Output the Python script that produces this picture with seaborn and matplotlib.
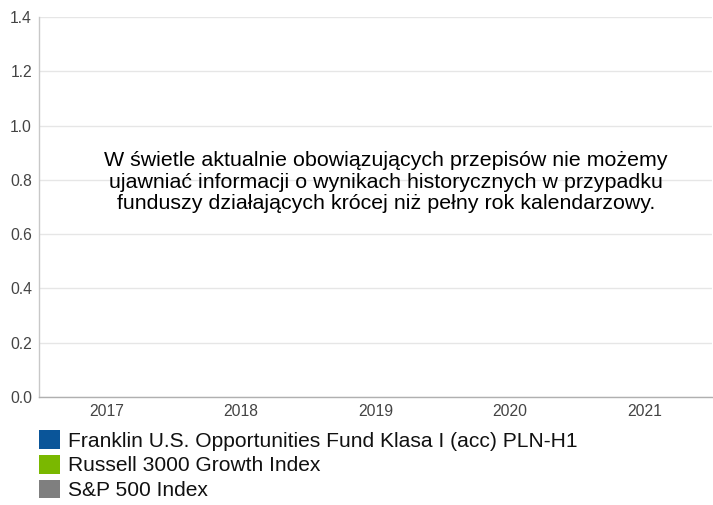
import numpy as np
import pandas as pd
import matplotlib
matplotlib.use("Agg")
import matplotlib.pyplot as plt
from matplotlib.patches import Patch
import seaborn as sns

years = ["2017", "2018", "2019", "2020", "2021"]
series_names = [
    "Franklin U.S. Opportunities Fund Klasa I (acc) PLN-H1",
    "Russell 3000 Growth Index",
    "S&P 500 Index",
]
series_colors = ["#0a5599", "#7ab800", "#7f7f7f"]
fund_values = [np.nan, np.nan, np.nan, np.nan, np.nan]
russell_values = [np.nan, np.nan, np.nan, np.nan, np.nan]
sp_values = [np.nan, np.nan, np.nan, np.nan, np.nan]
y_ticks = [0.0, 0.2, 0.4, 0.6, 0.8, 1.0, 1.2, 1.4]
message = ("W świetle aktualnie obowiązujących przepisów nie możemy\n"
           "ujawniać informacji o wynikach historycznych w przypadku\n"
           "funduszy działających krócej niż pełny rok kalendarzowy.")

sns.set_theme(style="white")
plt.rcParams["font.family"] = ["Liberation Sans", "DejaVu Sans"]

df = pd.DataFrame({
    "year": years * 3,
    "series": [series_names[0]] * 5 + [series_names[1]] * 5 + [series_names[2]] * 5,
    "value": fund_values + russell_values + sp_values,
})

fig = plt.figure(figsize=(7.13, 5.05), dpi=100)
ax = fig.add_axes([39 / 713, 1 - 397 / 505, 673 / 713, 380 / 505])

sns.barplot(data=df, x="year", y="value", hue="series", order=years,
            hue_order=series_names, palette=series_colors, ax=ax, legend=False)

ax.set_xlim(-0.5, len(years) - 0.5)
ax.set_ylim(0, 1.4)
ax.set_yticks(y_ticks)
ax.set_yticklabels([f"{v:.1f}" for v in y_ticks])
ax.set_xlabel("")
ax.set_ylabel("")
ax.grid(axis="y", color="#e6e6e6", linewidth=1)
ax.grid(axis="x", visible=False)
ax.set_axisbelow(True)
ax.tick_params(axis="both", length=0, labelsize=11.3, labelcolor="#444444")
ax.tick_params(axis="y", pad=5)
ax.tick_params(axis="x", pad=5)
for s in ["top", "right"]:
    ax.spines[s].set_visible(False)
ax.spines["left"].set_color("#c8c8c8")
ax.spines["bottom"].set_color("#b0b0b0")
ax.spines["left"].set_linewidth(1)
ax.spines["bottom"].set_linewidth(1)

fig.text(386 / 713, 1 - 182 / 505, message, ha="center", va="center",
         fontsize=15.4, color="#000000", linespacing=1.16)

handles = [Patch(facecolor=c, edgecolor="none") for c in series_colors]
fig.legend(handles, series_names, loc="upper left",
           bbox_to_anchor=(39 / 713, 1 - 430 / 505), frameon=False,
           fontsize=15.1, handlelength=1.0, handleheight=1.0,
           handletextpad=0.38, labelspacing=0.2, borderpad=0,
           borderaxespad=0, labelcolor="#111111")

fig.savefig("out.png", dpi=100)
